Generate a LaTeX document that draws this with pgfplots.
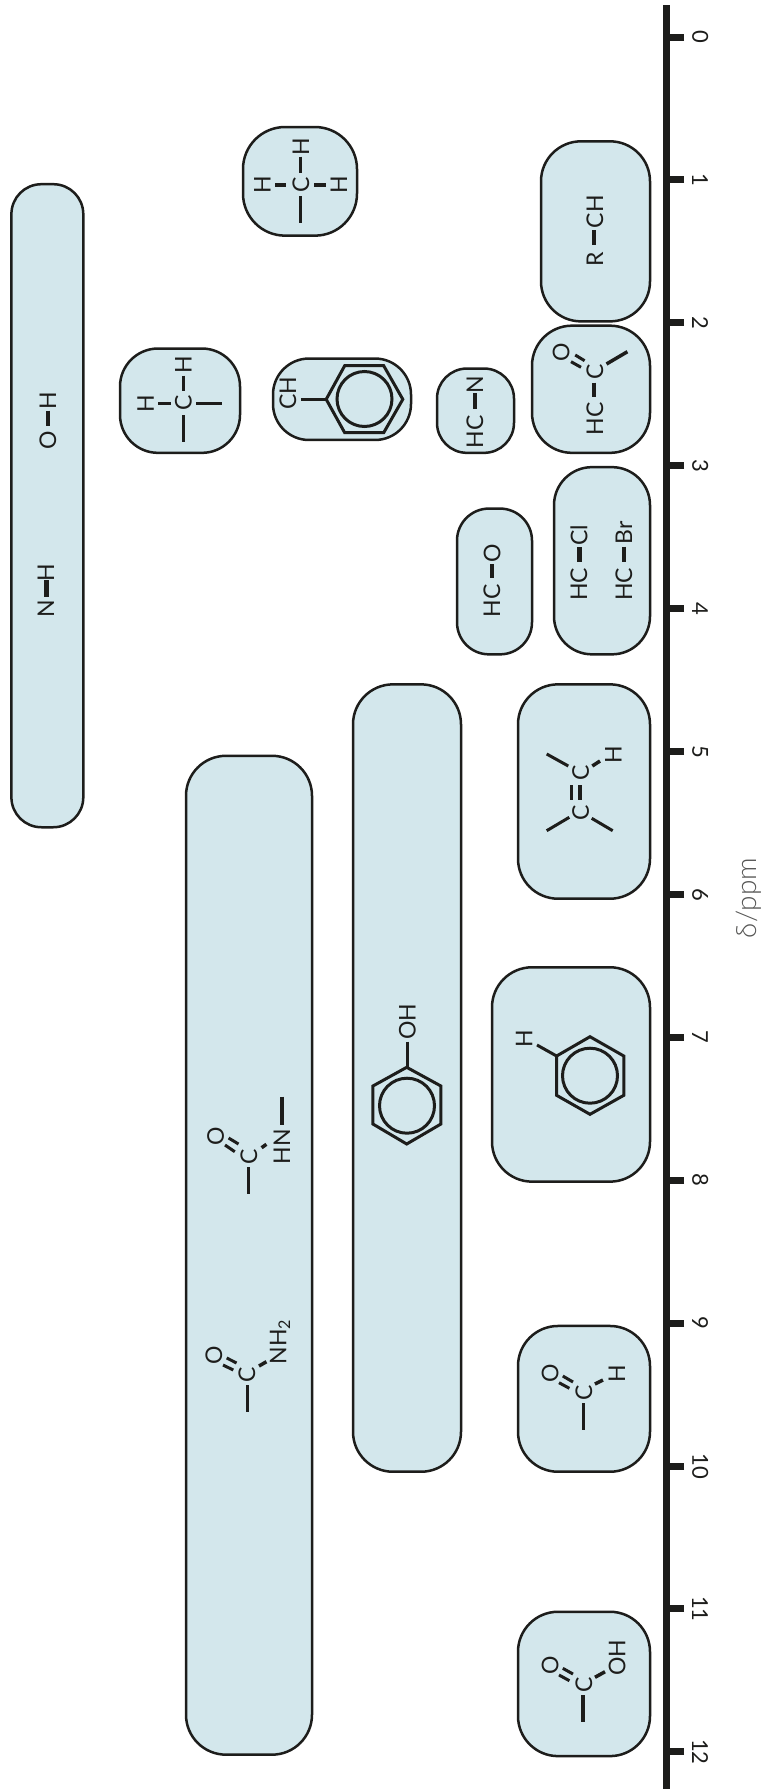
\documentclass[border=0pt]{standalone}
\usepackage{fontspec}
\setmainfont{Lato}
\newfontfamily\lightf{Lato Light}
\usepackage{pgfplots}
\pgfplotsset{compat=1.18}
\definecolor{ink}{HTML}{1D1D1B}
\definecolor{boxfill}{HTML}{D3E7EC}
\definecolor{labelgray}{HTML}{555554}

% range box: x left, x right, top ppm, bottom ppm, corner radius
\newcommand{\rangebox}[5]{%
  \pgfmathsetmacro\mx{(#1+#2)/2}%
  \addplot[draw=ink,fill=boxfill,line width=2.5pt,rounded corners=#5pt]
    coordinates {(\mx,#3) (#2,#3) (#2,#4) (#1,#4) (#1,#3) (\mx,#3)};
}
\newcommand{\bond}[5]{\addplot[ink,line width=#5pt] coordinates {(#1,#2) (#3,#4)};}
\newcommand{\atom}[3]{\node[rotate=90,inner sep=0pt,font=\fontsize{23}{23}\selectfont,text=ink] at (axis cs:#1,#2) {#3};}
\newcommand{\ring}[2]{\addplot[only marks,mark=o,mark size=27.5pt,mark options={draw=ink,line width=3pt}] coordinates {(#1,#2)};}

\begin{document}
\begin{tikzpicture}
\useasboundingbox (0,0) rectangle (766pt,1789pt);
% boxes on the real ppm scale
\begin{axis}[
  at={(0,0)}, anchor=south west,
  scale only axis,
  width=666pt, height=1789pt,
  xmin=0, xmax=666,
  ymin=-0.2589, ymax=12.2603,
  y dir=reverse,
  clip=false,
  axis y line=right,
  axis x line=none,
  ytick={0,1,2,3,4,5,6,7,8,9,10,11,12},
  tick align=outside,
  major tick length=18pt,
  y axis line style={draw=ink,line width=7pt,-,shorten <=5pt},
  every major tick/.append style={draw=ink,line width=7pt},
  yticklabel style={xshift=8pt,rotate=-90,anchor=south,text=ink,inner sep=0pt},
  ticklabel style={font=\fontsize{22}{22}\selectfont},
  /pgf/number format/assume math mode=true,
]
\rangebox{11.4}{83.3}{1.03}{5.53}{30}
\rangebox{243}{357}{0.63}{1.39}{42}
\rangebox{541}{650}{0.73}{1.99}{40}
\rangebox{532}{650}{2.02}{2.91}{40}
\rangebox{273}{411}{2.25}{2.82}{36}
\rangebox{437}{514}{2.32}{2.91}{30}
\rangebox{120}{240}{2.18}{2.91}{38}
\rangebox{554}{650}{3.01}{4.32}{38}
\rangebox{457}{532}{3.30}{4.32}{32}
\rangebox{518}{650}{4.53}{6.03}{40}
\rangebox{353}{461}{4.53}{10.04}{40}
\rangebox{186}{312}{5.03}{12.02}{40}
\rangebox{492}{650}{6.51}{8.01}{40}
\rangebox{518}{650}{9.02}{10.04}{40}
\rangebox{518}{650}{11.02}{12.03}{40}
\end{axis}

% structural formulas, same frame, y in pixels of the sheet
\begin{axis}[
  at={(0,0)}, anchor=south west,
  scale only axis,
  width=666pt, height=1789pt,
  xmin=0, xmax=666,
  ymin=0, ymax=1789,
  y dir=reverse,
  clip=false,
  hide axis,
]
% O-H, N-H
\atom{48}{401}{H} \bond{48}{410.7}{48}{426}{4} \atom{48}{440}{O}
\atom{46}{573}{H} \bond{46}{580}{46}{597}{5} \atom{46}{609}{N}
% CH4
\atom{300.8}{146.7}{H} \atom{300.8}{185}{C} \atom{262.5}{185}{H} \atom{339}{185}{H}
\bond{300.8}{156.7}{300.8}{172.7}{3}
\bond{300.8}{196}{300.8}{222.7}{3}
\bond{275}{185}{286}{185}{4}
\bond{314}{185}{325.5}{185}{4}
% R-CH
\atom{595}{211.7}{CH} \atom{595}{259}{R} \bond{594.3}{230}{594.3}{245}{4}
% ketone
\atom{595}{371.7}{C} \atom{561}{352.3}{O} \atom{595}{419}{HC}
\bond{594}{382.7}{594}{396.7}{4}
\bond{575.2}{355}{584.6}{360.7}{3}
\bond{571}{361.7}{581}{367.3}{3}
\bond{606.5}{364}{627.4}{351.7}{3.5}
% benzyl
\addplot[ink,line width=3pt] coordinates {(326.2,399.3) (344.7,365.7) (383.7,365.7) (402.8,399.3) (383.7,432.7) (344.7,432.7)} --cycle;
\ring{364.5}{399}
\atom{288}{393}{CH}
\bond{300.8}{399.3}{326}{399.3}{3}
% HC-N
\atom{475}{384.3}{N} \bond{475}{393}{475}{409}{4} \atom{475}{431.7}{HC}
% CH3 group
\atom{183.3}{365}{H} \atom{183.3}{403.3}{C} \atom{145.7}{403.3}{H}
\bond{183.3}{375.7}{183.3}{390.7}{3}
\bond{183.3}{415}{183.3}{441.7}{3}
\bond{158.3}{403.3}{170.7}{403.3}{3.5}
\bond{196}{403.3}{221.7}{403.3}{3.5}
% HC-O, HC-Cl, HC-Br
\atom{492}{553.3}{O} \bond{492}{564}{492}{578}{4} \atom{492}{600.7}{HC}
\atom{579}{535}{Cl} \bond{579}{547}{579}{561.7}{5} \atom{579}{584.3}{HC}
\atom{624}{532.7}{Br} \bond{624}{546.7}{624}{561.7}{3.5} \atom{624}{584.3}{HC}
% alkene
\atom{580.7}{773.3}{C} \atom{580.7}{813.3}{C} \atom{613.3}{755}{H}
\bond{571.7}{785}{571.7}{800}{3.5}
\bond{580}{785}{580}{800}{3.5}
\bond{546.7}{754}{568.3}{766}{3}
\bond{592.3}{766}{600}{761}{3.5}
\bond{546.7}{830.7}{569.3}{817.3}{3}
\bond{591.7}{818.3}{612.7}{830.7}{3}
% amide, secondary
\atom{248.8}{1156.7}{C} \atom{215.7}{1136.7}{O} \atom{281.8}{1146.7}{HN}
\bond{248.8}{1167}{248.8}{1194}{3}
\bond{281.8}{1096.7}{281.8}{1125}{4.5}
\bond{228.6}{1138}{238.5}{1144}{3}
\bond{225}{1145}{234.8}{1151.7}{3}
\bond{261.6}{1147.7}{266.4}{1144.3}{3.5}
% amide, primary
\atom{247}{1375}{C} \atom{213.9}{1355}{O} \atom{280}{1341.7}{NH\textsubscript{2}}
\bond{247}{1385}{247}{1411.7}{3}
\bond{226.7}{1358}{236.6}{1363}{3}
\bond{223}{1365}{233.3}{1370}{3}
\bond{259}{1366}{266.4}{1361.7}{3.5}
% phenol
\addplot[ink,line width=3pt] coordinates {(406.7,1067.3) (440.9,1086) (440.9,1124) (406.7,1144) (372.9,1124) (372.9,1086)} --cycle;
\ring{407}{1105.7}
\atom{407.4}{1021.7}{OH}
\bond{407}{1041.7}{407}{1066.7}{3}
% aromatic H
\addplot[ink,line width=3pt] coordinates {(590,1036.7) (623.8,1056) (623.8,1095.3) (590,1114.3) (556.6,1095.3) (556.6,1056)} --cycle;
\ring{590}{1075.7}
\atom{524.2}{1038.3}{H}
\bond{537}{1045}{556.6}{1056}{3}
% aldehyde
\atom{584}{1392.7}{C} \atom{550}{1373.3}{O} \atom{616.8}{1373.3}{H}
\bond{583.4}{1403}{583.4}{1430}{3.5}
\bond{562.8}{1376}{573}{1382}{3}
\bond{559}{1382.7}{569.4}{1388.3}{3}
\bond{595}{1384}{603}{1380}{3.5}
% carboxylic acid
\atom{584}{1685}{C} \atom{550}{1665.7}{O} \atom{617}{1657.7}{OH}
\bond{583}{1695}{583}{1721.7}{4.5}
\bond{562.8}{1668.3}{573}{1674}{3}
\bond{559}{1675}{569.4}{1680.7}{3}
\bond{595}{1677.3}{605}{1671.7}{3.5}
% axis title
\node[rotate=90,font=\lightf\fontsize{28}{28}\selectfont,text=labelgray] at (axis cs:749,898) {δ/ppm};
\end{axis}
\end{tikzpicture}
\end{document}
